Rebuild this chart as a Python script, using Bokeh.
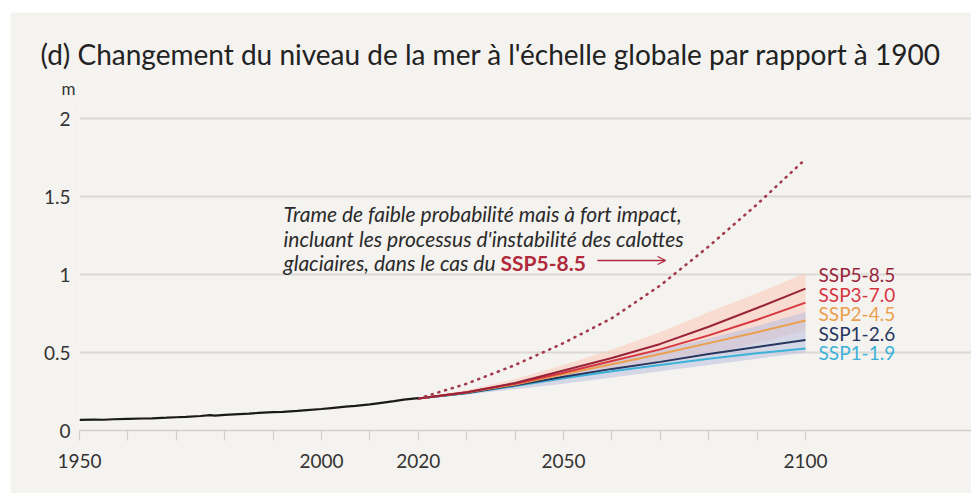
from bokeh.plotting import figure
from bokeh.models import Range1d, FixedTicker, Label, Arrow, OpenHead, Title
from bokeh.embed import file_html
from bokeh.resources import INLINE

# ---------------- data ----------------
hist_years = [1950, 1953, 1955, 1957, 1960, 1963, 1965, 1968, 1970, 1972, 1975, 1977, 1978,
              1980, 1982, 1985, 1987, 1990, 1992, 1995, 1997, 2000, 2002, 2005, 2007, 2010,
              2012, 2015, 2017, 2020]
hist_vals = [0.068, 0.070, 0.069, 0.072, 0.075, 0.077, 0.078, 0.082, 0.085, 0.087, 0.093, 0.098,
             0.095, 0.100, 0.104, 0.108, 0.113, 0.118, 0.120, 0.126, 0.131, 0.138, 0.144, 0.153,
             0.158, 0.168, 0.176, 0.188, 0.198, 0.208]

proj_years = [2020, 2030, 2040, 2050, 2060, 2070, 2080, 2090, 2100]
ssp585 = [0.205, 0.245, 0.305, 0.385, 0.465, 0.555, 0.665, 0.785, 0.910]
ssp370 = [0.205, 0.245, 0.300, 0.370, 0.445, 0.520, 0.610, 0.710, 0.820]
ssp245 = [0.205, 0.243, 0.295, 0.360, 0.425, 0.490, 0.560, 0.630, 0.705]
ssp126 = [0.205, 0.240, 0.290, 0.345, 0.395, 0.440, 0.490, 0.535, 0.580]
ssp119 = [0.205, 0.238, 0.285, 0.335, 0.380, 0.420, 0.460, 0.495, 0.525]

ssp370_low = [0.205, 0.235, 0.275, 0.325, 0.380, 0.430, 0.490, 0.560, 0.640]
ssp370_high = [0.205, 0.260, 0.330, 0.420, 0.520, 0.630, 0.760, 0.880, 1.010]
ssp126_low = [0.205, 0.230, 0.265, 0.300, 0.340, 0.380, 0.420, 0.460, 0.500]
ssp126_high = [0.205, 0.250, 0.310, 0.380, 0.450, 0.520, 0.590, 0.670, 0.760]

lowlik = [0.205, 0.300, 0.420, 0.560, 0.720, 0.930, 1.180, 1.450, 1.740]

scenario_labels = ["SSP5-8.5", "SSP3-7.0", "SSP2-4.5", "SSP1-2.6", "SSP1-1.9"]
label_levels = [1.0, 0.872, 0.75, 0.622, 0.50]

x_ticks = [1950, 1960, 1970, 1980, 1990, 2000, 2010, 2020, 2030, 2040, 2050, 2060, 2070,
           2080, 2090, 2100]
x_tick_labels = {1950: "1950", 2000: "2000", 2020: "2020", 2050: "2050", 2100: "2100"}
y_ticks = [0, 0.5, 1, 1.5, 2]
y_tick_labels = {0: "0", 0.5: "0.5", 1: "1", 1.5: "1.5", 2: "2"}

title_text = "(d) Changement du niveau de la mer à l'échelle globale par rapport à 1900"
unit_text = "m"
note_lines = ["Trame de faible probabilité mais à fort impact,",
              "incluant les processus d'instabilité des calottes",
              "glaciaires, dans le cas du"]
note_key = "SSP5-8.5"

# ---------------- style ----------------
BG = "#f5f3f0"
FONT = "Lato"
colors = {"SSP5-8.5": "#99243a", "SSP3-7.0": "#d8363f", "SSP2-4.5": "#eaa04c",
          "SSP1-2.6": "#26365f", "SSP1-1.9": "#3cb2d8"}

p = figure(width=961, height=481, output_backend="svg", toolbar_location=None,
           x_range=Range1d(1950, 2134.3), y_range=Range1d(0, 2.122),
           min_border_left=69, min_border_right=0, min_border_top=87, min_border_bottom=63)
p.styles = {"margin-left": "10px", "margin-top": "12px"}
p.background_fill_color = BG
p.border_fill_color = BG
p.outline_line_color = None

# axes
p.xaxis.ticker = FixedTicker(ticks=x_ticks)
p.xaxis.major_label_overrides = {t: x_tick_labels.get(t, "") for t in x_ticks}
p.xaxis.axis_line_color = "#d2cfcb"
p.xaxis.axis_line_width = 1.5
p.xaxis.major_tick_line_color = "#d2cfcb"
p.xaxis.major_tick_line_width = 1.2
p.xaxis.major_tick_in = 0
p.xaxis.major_tick_out = 10
p.xaxis.minor_tick_line_color = None
p.xaxis.major_label_text_font = FONT
p.xaxis.major_label_text_font_size = "19px"
p.xaxis.major_label_text_color = "#333333"
p.xaxis.major_label_standoff = 13

p.yaxis.ticker = FixedTicker(ticks=y_ticks)
p.yaxis.major_label_overrides = y_tick_labels
p.yaxis.axis_line_color = None
p.yaxis.major_tick_line_color = None
p.yaxis.minor_tick_line_color = None
p.yaxis.major_tick_out = 0
p.yaxis.major_label_text_font = FONT
p.yaxis.major_label_text_font_size = "19px"
p.yaxis.major_label_text_color = "#333333"
p.yaxis.major_label_standoff = 9

p.xgrid.grid_line_color = None
p.ygrid.ticker = FixedTicker(ticks=[0.5, 1, 1.5, 2])
p.ygrid.grid_line_color = "#dcd9d5"
p.ygrid.grid_line_width = 2

# bands
p.varea(x=proj_years, y1=ssp370_low, y2=ssp370_high, fill_color="#fbcdbd", fill_alpha=0.6)
p.varea(x=proj_years, y1=ssp126_low, y2=ssp126_high, fill_color="#b9c0e0", fill_alpha=0.55)

# scenario lines
series = {"SSP5-8.5": ssp585, "SSP3-7.0": ssp370, "SSP2-4.5": ssp245,
          "SSP1-2.6": ssp126, "SSP1-1.9": ssp119}
for name in ["SSP1-1.9", "SSP1-2.6", "SSP2-4.5", "SSP3-7.0", "SSP5-8.5"]:
    p.line(proj_years, series[name], line_color=colors[name], line_width=2)

# low-likelihood trajectory
p.line(proj_years, lowlik, line_color="#a33a4c", line_width=2.6, line_dash="1 6",
       line_cap="round")

# historical
p.line(hist_years, hist_vals, line_color="#1a1a1a", line_width=2.2)

# scenario labels
for name, lvl in zip(scenario_labels, label_levels):
    p.add_layout(Label(x=2102.7, y=lvl, text=name, text_font=FONT, text_font_size="19px",
                       text_color=colors[name], text_baseline="middle", text_align="left"))

# annotation
note_y = [1.391, 1.231, 1.077]
for line, yv in zip(note_lines, note_y):
    p.add_layout(Label(x=1992.15, y=yv, text=line, text_font=FONT, text_font_size="21px",
                       text_font_style="italic", text_color="#2a2a2a",
                       text_baseline="middle", text_align="left"))
p.add_layout(Label(x=2037.0, y=1.077, text=note_key, text_font=FONT, text_font_size="21px",
                   text_font_style="bold", text_color="#b02a3c",
                   text_baseline="middle", text_align="left"))
p.add_layout(Arrow(x_start=2057.0, y_start=1.09, x_end=2071.1, y_end=1.09,
                   line_color="#b02a3c", line_width=1.3,
                   end=OpenHead(size=8, line_color="#b02a3c", line_width=1.3)))

# unit label and title (stacked above the frame)
p.add_layout(Title(text=unit_text, text_font=FONT, text_font_size="17px",
                   text_font_style="normal", text_color="#333333", align="left",
                   offset=-18, standoff=2), "above")
p.add_layout(Title(text=title_text, text_font=FONT, text_font_size="28px",
                   text_font_style="normal", text_color="#222222", align="left",
                   offset=-39, standoff=8), "above")

open("out.html", "w").write(file_html(p, INLINE))
